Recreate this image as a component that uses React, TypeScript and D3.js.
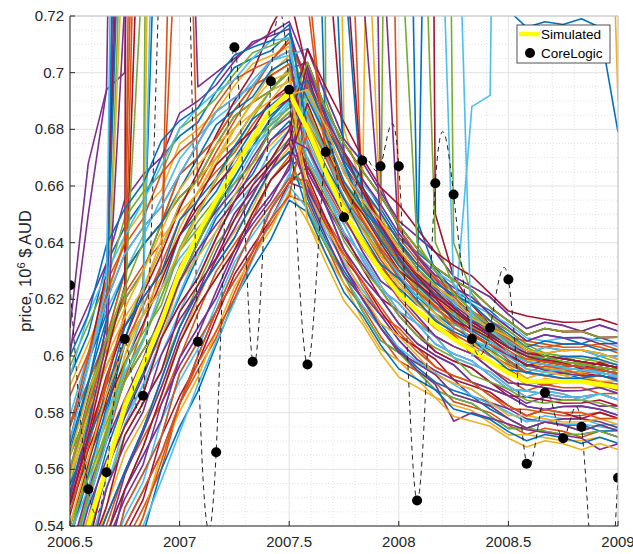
import React from 'react';
import * as d3 from 'd3';

const W = 633;
const H = 554;
const PLOT = { left: 70, top: 16, right: 618, bottom: 526 };

const START_YEAR = 2006.5;

const X_TICKS = [2006.5, 2007, 2007.5, 2008, 2008.5, 2009];
const X_TICK_LABELS = ['2006.5', '2007', '2007.5', '2008', '2008.5', '2009'];
const Y_TICKS = [0.54, 0.56, 0.58, 0.6, 0.62, 0.64, 0.66, 0.68, 0.7, 0.72];
const Y_TICK_LABELS = ['0.54', '0.56', '0.58', '0.6', '0.62', '0.64', '0.66', '0.68', '0.7', '0.72'];

const MATLAB_COLORS = ['#0072BD', '#D95319', '#EDB120', '#7E2F8E', '#77AC30', '#4DBEEE', '#A2142F'];

// Simulated mean, monthly (thousandths of 10^6 $)
const SIM_MEAN = [520, 540, 560, 582, 597, 612, 630, 643, 655, 666, 677, 687, 693, 680, 665, 651, 640, 630, 622, 616, 611, 606, 602, 598, 594, 591, 591, 591, 591, 590, 589];

// Centre and half-width of the bundle of simulated paths (thousandths)
const BAND_CENTER = [530, 550, 570, 588, 602, 615, 629, 640, 651, 661, 670, 678, 686, 678, 664, 651, 640, 631, 623, 617, 611, 606, 602, 598, 594, 591, 591, 591, 590, 590, 589];
const BAND_HALF = [70, 68, 66, 64, 62, 58, 54, 50, 47, 43, 39, 35, 31, 32, 31, 30, 30, 30, 29, 28, 27, 26, 25, 24, 23, 22, 22, 22, 22, 22, 22];

// Position of each simulated path inside the bundle (units of 1/20 of the half-width)
const SIM_DEV = [
  [18, 17, 19, 18, 17, 19, 18, 17, 18, 19, 18, 17, 18, 10, 11, 9, 10, 11, 10, 9, 10, 11, 9, 10, 11, 10, 9, 10, 11, 10, 9],
  [-17, -18, -19, -17, -18, -19, -17, -18, -19, -18, -17, -18, -19, -15, -16, -17, -15, -16, -17, -16, -15, -17, -16, -15, -16, -17, -15, -16, -17, -15, -16],
  [3, 4, 5, 5, 4, 3, 3, 4, 5, 4, 3, 5, 4, 5, 6, 7, 6, 5, 7, 6, 5, 6, 7, 6, 5, 7, 6, 5, 6, 7, 6],
  [-8, -7, -8, -9, -9, -8, -7, -7, -8, -9, -8, -7, -9, -6, -7, -6, -5, -5, -6, -7, -7, -6, -5, -6, -6, -7, -5, -6, -5, -7, -6],
  [13, 12, 11, 13, 12, 11, 13, 12, 11, 12, 13, 12, 11, 3, 4, 5, 4, 3, 5, 4, 3, 4, 5, 4, 3, 5, 4, 3, 4, 5, 4],
  [-14, -15, -13, -14, -15, -13, -14, -15, -14, -13, -14, -15, -14, -12, -13, -12, -11, -11, -12, -13, -13, -12, -11, -12, -12, -13, -11, -12, -11, -13, -12],
  [-1, 0, 1, 1, 0, -1, -1, 0, 1, 0, -1, 1, 0, 0, 1, -1, 0, 1, 0, -1, 0, 1, -1, 0, 1, 0, -1, 0, 1, 0, -1],
  [8, 9, 8, 7, 7, 8, 9, 9, 8, 7, 8, 9, 7, 15, 14, 13, 15, 14, 13, 14, 15, 13, 14, 15, 14, 13, 15, 14, 13, 15, 14],
  [-4, -5, -3, -4, -5, -3, -4, -5, -4, -3, -4, -5, -4, -11, -10, -9, -10, -11, -9, -10, -11, -10, -9, -10, -11, -9, -10, -11, -10, -9, -10],
  [17, 16, 15, 17, 16, 15, 17, 16, 15, 16, 17, 16, 15, 0, -1, 0, 1, 1, 0, -1, -1, 0, 1, 0, 0, -1, 1, 0, 1, -1, 0],
  [-17, -16, -15, -15, -16, -17, -17, -16, -15, -16, -17, -15, -16, -12, -11, -13, -12, -11, -12, -13, -12, -11, -13, -12, -11, -12, -13, -12, -11, -12, -13],
  [2, 3, 2, 1, 1, 2, 3, 3, 2, 1, 2, 3, 1, 9, 8, 7, 9, 8, 7, 8, 9, 7, 8, 9, 8, 7, 9, 8, 7, 9, 8],
  [-11, -12, -13, -11, -12, -13, -11, -12, -13, -12, -11, -12, -13, -3, -2, -1, -2, -3, -1, -2, -3, -2, -1, -2, -3, -1, -2, -3, -2, -1, -2],
  [10, 9, 11, 10, 9, 11, 10, 9, 10, 11, 10, 9, 10, 16, 15, 16, 17, 17, 16, 15, 15, 16, 17, 16, 16, 15, 17, 16, 17, 15, 16],
  [-3, -2, -1, -1, -2, -3, -3, -2, -1, -2, -3, -1, -2, -8, -7, -9, -8, -7, -8, -9, -8, -7, -9, -8, -7, -8, -9, -8, -7, -8, -9],
  [6, 7, 6, 5, 5, 6, 7, 7, 6, 5, 6, 7, 5, -3, -4, -5, -3, -4, -5, -4, -3, -5, -4, -3, -4, -5, -3, -4, -5, -3, -4],
  [-18, -19, -17, -18, -19, -17, -18, -19, -18, -17, -18, -19, -18, -19, -18, -17, -18, -19, -17, -18, -19, -18, -17, -18, -19, -17, -18, -19, -18, -17, -18],
  [21, 20, 19, 21, 20, 19, 21, 20, 19, 20, 21, 20, 19, 10, 9, 10, 11, 11, 10, 9, 9, 10, 11, 10, 10, 9, 11, 10, 11, 9, 10],
  [-7, -6, -5, -5, -6, -7, -7, -6, -5, -6, -7, -5, -6, 4, 5, 3, 4, 5, 4, 3, 4, 5, 3, 4, 5, 4, 3, 4, 5, 4, 3],
  [14, 15, 14, 13, 13, 14, 15, 15, 14, 13, 14, 15, 13, 19, 18, 17, 19, 18, 17, 18, 19, 17, 18, 19, 18, 17, 19, 18, 17, 19, 18],
  [-16, -17, -15, -16, -17, -15, -16, -17, -16, -15, -16, -17, -16, -7, -6, -5, -6, -7, -5, -6, -7, -6, -5, -6, -7, -5, -6, -7, -6, -5, -6],
  [5, 4, 3, 5, 4, 3, 5, 4, 3, 4, 5, 4, 3, -14, -15, -14, -13, -13, -14, -15, -15, -14, -13, -14, -14, -15, -13, -14, -13, -15, -14],
  [-11, -10, -9, -9, -10, -11, -11, -10, -9, -10, -11, -9, -10, 12, 13, 11, 12, 13, 12, 11, 12, 13, 11, 12, 13, 12, 11, 12, 13, 12, 11],
  [8, 9, 8, 7, 7, 8, 9, 9, 8, 7, 8, 9, 7, 3, 2, 1, 3, 2, 1, 2, 3, 1, 2, 3, 2, 1, 3, 2, 1, 3, 2],
  [-12, -13, -11, -12, -13, -11, -12, -13, -12, -11, -12, -13, -12, -5, -4, -3, -4, -5, -3, -4, -5, -4, -3, -4, -5, -3, -4, -5, -4, -3, -4],
  [19, 18, 17, 19, 18, 17, 19, 18, 17, 18, 19, 18, 17, 6, 5, 6, 7, 7, 6, 5, 5, 6, 7, 6, 6, 5, 7, 6, 7, 5, 6],
  [-5, -4, -3, -3, -4, -5, -5, -4, -3, -4, -5, -3, -4, 14, 15, 13, 14, 15, 14, 13, 14, 15, 13, 14, 15, 14, 13, 14, 15, 14, 13],
  [4, 5, 4, 3, 3, 4, 5, 5, 4, 3, 4, 5, 3, -9, -10, -11, -9, -10, -11, -10, -9, -11, -10, -9, -10, -11, -9, -10, -11, -9, -10],
  [-20, -21, -19, -20, -21, -19, -20, -21, -20, -19, -20, -21, -20, -17, -16, -15, -16, -17, -15, -16, -17, -16, -15, -16, -17, -15, -16, -17, -16, -15, -16],
  [13, 12, 11, 13, 12, 11, 13, 12, 11, 12, 13, 12, 11, -2, -3, -2, -1, -1, -2, -3, -3, -2, -1, -2, -2, -3, -1, -2, -1, -3, -2],
  [-9, -8, -7, -7, -8, -9, -9, -8, -7, -8, -9, -7, -8, 8, 9, 7, 8, 9, 8, 7, 8, 9, 7, 8, 9, 8, 7, 8, 9, 8, 7],
  [0, 1, 0, -1, -1, 0, 1, 1, 0, -1, 0, 1, -1, 19, 18, 17, 19, 18, 17, 18, 19, 17, 18, 19, 18, 17, 19, 18, 17, 19, 18],
  [10, 9, 11, 10, 9, 11, 10, 9, 10, 11, 10, 9, 10, -17, -16, -15, -16, -17, -15, -16, -17, -16, -15, -16, -17, -15, -16, -17, -16, -15, -16],
  [-13, -14, -15, -13, -14, -15, -13, -14, -15, -14, -13, -14, -15, 10, 9, 10, 11, 11, 10, 9, 9, 10, 11, 10, 10, 9, 11, 10, 11, 9, 10],
  [5, 6, 7, 7, 6, 5, 5, 6, 7, 6, 5, 7, 6, 0, 1, -1, 0, 1, 0, -1, 0, 1, -1, 0, 1, 0, -1, 0, 1, 0, -1],
  [-8, -7, -8, -9, -9, -8, -7, -7, -8, -9, -8, -7, -9, -17, -18, -19, -17, -18, -19, -18, -17, -19, -18, -17, -18, -19, -17, -18, -19, -17, -18],
  [16, 15, 17, 16, 15, 17, 16, 15, 16, 17, 16, 15, 16, 11, 12, 13, 12, 11, 13, 12, 11, 12, 13, 12, 11, 13, 12, 11, 12, 13, 12],
  [-1, -2, -3, -1, -2, -3, -1, -2, -3, -2, -1, -2, -3, 2, 1, 2, 3, 3, 2, 1, 1, 2, 3, 2, 2, 1, 3, 2, 3, 1, 2],
  [13, 14, 15, 15, 14, 13, 13, 14, 15, 14, 13, 15, 14, -8, -7, -9, -8, -7, -8, -9, -8, -7, -9, -8, -7, -8, -9, -8, -7, -8, -9],
  [-10, -9, -10, -11, -11, -10, -9, -9, -10, -11, -10, -9, -11, -13, -14, -15, -13, -14, -15, -14, -13, -15, -14, -13, -14, -15, -13, -14, -15, -13, -14],
  [2, 1, 3, 2, 1, 3, 2, 1, 2, 3, 2, 1, 2, -5, -4, -3, -4, -5, -3, -4, -5, -4, -3, -4, -5, -3, -4, -5, -4, -3, -4],
  [-5, -6, -7, -5, -6, -7, -5, -6, -7, -6, -5, -6, -7, 16, 15, 16, 17, 17, 16, 15, 15, 16, 17, 16, 16, 15, 17, 16, 17, 15, 16],
  [11, 12, 13, 13, 12, 11, 11, 12, 13, 12, 11, 13, 12, 8, 9, 7, 8, 9, 8, 7, 8, 9, 7, 8, 9, 8, 7, 8, 9, 8, 7],
  [-18, -17, -18, -19, -19, -18, -17, -17, -18, -19, -18, -17, -19, 5, 4, 3, 5, 4, 3, 4, 5, 3, 4, 5, 4, 3, 5, 4, 3, 5, 4],
  [8, 7, 9, 8, 7, 9, 8, 7, 8, 9, 8, 7, 8, -13, -12, -11, -12, -13, -11, -12, -13, -12, -11, -12, -13, -11, -12, -13, -12, -11, -12],
  [-11, -12, -13, -11, -12, -13, -11, -12, -13, -12, -11, -12, -13, 14, 13, 14, 15, 15, 14, 13, 13, 14, 15, 14, 14, 13, 15, 14, 15, 13, 14],
  [-1, 0, 1, 1, 0, -1, -1, 0, 1, 0, -1, 1, 0, -6, -5, -7, -6, -5, -6, -7, -6, -5, -7, -6, -5, -6, -7, -6, -5, -6, -7],
  [18, 19, 18, 17, 17, 18, 19, 19, 18, 17, 18, 19, 17, -3, -4, -5, -3, -4, -5, -4, -3, -5, -4, -3, -4, -5, -3, -4, -5, -3, -4],
  [-4, -5, -3, -4, -5, -3, -4, -5, -4, -3, -4, -5, -4, 19, 20, 21, 20, 19, 21, 20, 19, 20, 21, 20, 19, 21, 20, 19, 20, 21, 20],
  [7, 6, 5, 7, 6, 5, 7, 6, 5, 6, 7, 6, 5, 12, 11, 12, 13, 13, 12, 11, 11, 12, 13, 12, 12, 11, 13, 12, 13, 11, 12],
  [-17, -16, -15, -15, -16, -17, -17, -16, -15, -16, -17, -15, -16, 0, 1, -1, 0, 1, 0, -1, 0, 1, -1, 0, 1, 0, -1, 0, 1, 0, -1],
  [10, 11, 10, 9, 9, 10, 11, 11, 10, 9, 10, 11, 9, -19, -20, -21, -19, -20, -21, -20, -19, -21, -20, -19, -20, -21, -19, -20, -21, -19, -20],
  [-6, -7, -5, -6, -7, -5, -6, -7, -6, -5, -6, -7, -6, -3, -2, -1, -2, -3, -1, -2, -3, -2, -1, -2, -3, -1, -2, -3, -2, -1, -2],
  [3, 2, 1, 3, 2, 1, 3, 2, 1, 2, 3, 2, 1, 16, 15, 16, 17, 17, 16, 15, 15, 16, 17, 16, 16, 15, 17, 16, 17, 15, 16],
  [13, 14, 15, 15, 14, 13, 13, 14, 15, 14, 13, 15, 14, 4, 5, 3, 4, 5, 4, 3, 4, 5, 3, 4, 5, 4, 3, 4, 5, 4, 3],
  [-10, -9, -10, -11, -11, -10, -9, -9, -10, -11, -10, -9, -11, 7, 6, 5, 7, 6, 5, 6, 7, 5, 6, 7, 6, 5, 7, 6, 5, 7, 6],
  [20, 19, 21, 20, 19, 21, 20, 19, 20, 21, 20, 19, 20, 1, 2, 3, 2, 1, 3, 2, 1, 2, 3, 2, 1, 3, 2, 1, 2, 3, 2],
  [-13, -14, -15, -13, -14, -15, -13, -14, -15, -14, -13, -14, -15, -10, -11, -10, -9, -9, -10, -11, -11, -10, -9, -10, -10, -11, -9, -10, -9, -11, -10],
  [3, 4, 5, 5, 4, 3, 3, 4, 5, 4, 3, 5, 4, 10, 11, 9, 10, 11, 10, 9, 10, 11, 9, 10, 11, 10, 9, 10, 11, 10, 9],
  [-2, -1, -2, -3, -3, -2, -1, -1, -2, -3, -2, -1, -3, -13, -14, -15, -13, -14, -15, -14, -13, -15, -14, -13, -14, -15, -13, -14, -15, -13, -14],
];

// Diverging / outlier simulated paths (absolute, thousandths)
const SIM_OUTLIERS = [
  [575, 598, 615, 964, 1200, 1300, 1300, 1300, 1300, 1300, 1300, 1300, 1300, 900, 675, 660, 648, 637, 628, 621, 615, 610, 606, 602, 598, 594, 593, 594, 592, 591, 590],
  [540, 563, 590, 615, 1200, 1200, 1200, 1200, 1200, 1200, 1200, 1200, 1200, 1200, 1200, 820, 655, 642, 633, 626, 620, 615, 610, 606, 602, 598, 597, 596, 597, 595, 594],
  [600, 650, 694, 700, 1300, 1300, 1300, 1300, 1300, 1300, 1300, 1300, 1300, 1300, 1300, 1300, 1300, 760, 640, 631, 624, 618, 613, 609, 605, 601, 599, 598, 597, 596, 595],
  [555, 578, 600, 791, 2000, 2000, 2000, 2000, 2000, 2000, 2000, 2000, 2000, 2000, 690, 672, 659, 648, 639, 631, 625, 619, 614, 609, 605, 601, 600, 599, 598, 597, 596],
  [530, 552, 575, 600, 620, 1100, 1100, 1100, 1100, 1100, 1100, 1100, 1100, 1100, 1100, 680, 660, 647, 637, 629, 623, 617, 612, 608, 604, 600, 599, 598, 597, 596, 595],
  [525, 548, 570, 592, 610, 632, 900, 660, 672, 683, 694, 704, 712, 698, 680, 665, 653, 643, 634, 627, 621, 616, 611, 607, 603, 600, 599, 598, 597, 596, 595],
  [548, 570, 592, 612, 807, 1600, 1600, 1600, 1600, 1600, 1600, 1600, 1600, 1600, 1600, 1600, 1600, 1600, 1600, 1600, 650, 628, 618, 611, 606, 602, 600, 599, 598, 597, 596],
  [552, 576, 612, 1000, 1000, 1000, 1000, 1000, 1000, 1000, 1000, 1000, 1000, 1000, 1000, 1000, 1000, 1000, 1000, 648, 630, 620, 613, 607, 603, 600, 598, 597, 596, 595, 594],
  [610, 668, 694, 1100, 1100, 1100, 1100, 1100, 1100, 1100, 1100, 1100, 1100, 1100, 1100, 1100, 1100, 660, 645, 635, 627, 620, 615, 610, 606, 602, 600, 599, 598, 597, 596],
  [510, 532, 553, 576, 590, 606, 622, 637, 650, 661, 672, 682, 690, 676, 662, 650, 640, 631, 624, 618, 614, 609, 688, 692, 1200, 1200, 1200, 1200, 1200, 1200, 1200],
  [515, 537, 558, 580, 594, 609, 626, 640, 652, 663, 674, 684, 691, 678, 664, 650, 640, 631, 624, 618, 1000, 1000, 1000, 780, 722, 716, 718, 717, 719, 716, 679],
  [535, 558, 578, 600, 615, 628, 645, 658, 668, 680, 690, 700, 706, 692, 676, 662, 651, 1100, 1100, 1100, 1100, 1100, 1100, 1100, 1100, 1100, 1100, 1100, 1100, 900, 690],
  [528, 551, 572, 594, 606, 621, 638, 651, 662, 673, 684, 694, 700, 686, 670, 656, 645, 636, 1300, 1300, 1300, 640, 622, 614, 609, 604, 601, 600, 599, 598, 597],
  [540, 562, 585, 606, 622, 636, 652, 665, 678, 690, 700, 716, 728, 700, 678, 660, 648, 638, 630, 623, 617, 612, 608, 604, 600, 597, 596, 595, 594, 593, 592],
  [560, 585, 610, 900, 900, 900, 900, 695, 700, 705, 710, 714, 718, 702, 684, 668, 655, 645, 636, 628, 622, 617, 612, 608, 604, 601, 600, 599, 598, 597, 596],
  [470, 490, 510, 528, 540, 556, 573, 590, 605, 619, 634, 648, 660, 652, 640, 628, 618, 610, 603, 598, 594, 590, 586, 583, 580, 577, 577, 576, 576, 575, 574],
  [495, 515, 536, 558, 573, 589, 607, 621, 634, 645, 657, 668, 675, 660, 646, 632, 620, 610, 602, 595, 590, 577, 580, 578, 576, 574, 573, 572, 571, 567, 569],
  [545, 568, 592, 615, 882, 1400, 1400, 1400, 1400, 1400, 1400, 1400, 1400, 736, 670, 656, 645, 634, 626, 619, 613, 608, 604, 600, 597, 594, 593, 592, 592, 591, 590],
  [535, 558, 582, 606, 625, 818, 1200, 1200, 1200, 1200, 1200, 1200, 1200, 1200, 1200, 738, 655, 644, 635, 627, 621, 616, 611, 607, 603, 600, 598, 597, 596, 596, 595],
  [558, 582, 605, 761, 1500, 1500, 1500, 1500, 1500, 1500, 1500, 1500, 1500, 1500, 1500, 1500, 799, 650, 636, 627, 620, 614, 609, 605, 601, 598, 596, 595, 594, 594, 593],
  [560, 582, 603, 622, 632, 640, 777, 1300, 1300, 1300, 1300, 1300, 1300, 1300, 1300, 1300, 1300, 1005, 645, 636, 628, 621, 615, 610, 606, 602, 599, 598, 597, 596, 595],
  [565, 588, 605, 620, 740, 1300, 1300, 1300, 1300, 1300, 1300, 1300, 1300, 1300, 1300, 1300, 1300, 1300, 1300, 841, 640, 625, 615, 609, 604, 601, 599, 598, 597, 596, 595],
  [570, 598, 630, 824, 1500, 1500, 1500, 1500, 1500, 1500, 1500, 1500, 1500, 1500, 752, 672, 658, 646, 637, 629, 623, 617, 612, 608, 604, 601, 600, 599, 598, 597, 596],
  [525, 548, 570, 596, 615, 890, 1200, 1200, 1200, 1200, 1200, 1200, 1200, 1200, 1200, 1200, 1200, 1200, 1200, 1200, 828, 625, 615, 609, 604, 600, 598, 597, 596, 595, 594],
  [566, 590, 620, 813, 1400, 1400, 1400, 1400, 1400, 1400, 1400, 1400, 1400, 1400, 826, 668, 652, 641, 632, 625, 619, 614, 609, 605, 601, 598, 597, 596, 595, 594, 593],
  [548, 572, 600, 625, 3000, 3000, 3000, 3000, 3000, 3000, 3000, 3000, 3000, 3000, 3000, 749, 660, 646, 636, 628, 621, 616, 611, 607, 603, 600, 598, 597, 596, 595, 594],
  [550, 575, 605, 725, 1800, 1800, 1800, 1800, 1800, 1800, 1800, 1800, 1800, 1800, 1800, 1800, 732, 648, 634, 626, 619, 613, 608, 604, 600, 597, 595, 594, 593, 593, 592],
  [575, 600, 622, 640, 921, 1600, 1600, 1600, 1600, 1600, 1600, 1600, 1600, 725, 672, 659, 648, 638, 630, 623, 617, 612, 608, 604, 601, 599, 598, 597, 596, 595, 594],
  [560, 584, 606, 624, 640, 1400, 1400, 1400, 1400, 1400, 1400, 1400, 1400, 1400, 1400, 1400, 1400, 1400, 761, 640, 630, 622, 616, 611, 607, 603, 600, 598, 597, 596, 595],
  [570, 596, 625, 1122, 1500, 1500, 1500, 1500, 1500, 1500, 1500, 1500, 1500, 1500, 1500, 1500, 1500, 1500, 1500, 1500, 1500, 822, 600, 605, 601, 598, 597, 596, 595, 594, 593],
];
const OUTLIER_COLOR_IDX = [0, 1, 3, 4, 2, 1, 6, 0, 3, 5, 0, 2, 4, 6, 3, 5, 3, 1, 0, 2, 1, 4, 6, 5, 0, 6, 3, 1, 4, 5];

// CoreLogic monthly values (10^6 $ AUD); some months fall outside the visible range
const CORELOGIC = [0.625, 0.553, 0.559, 0.606, 0.586, 0.76, 0.86, 0.605, 0.566, 0.709, 0.598, 0.697, 0.694, 0.597, 0.672, 0.649, 0.669, 0.667, 0.667, 0.549, 0.661, 0.657, 0.606, 0.61, 0.627, 0.562, 0.587, 0.571, 0.575, 0.49, 0.557];

const LEGEND_LABELS = ['Simulated', 'CoreLogic'];
const Y_LABEL_MAIN = 'price, 10';
const Y_LABEL_SUP = '6';
const Y_LABEL_TAIL = ' $ AUD';

const FONT = '"Liberation Sans", Arial, Helvetica, sans-serif';

export default function App() {
  const x = d3.scaleLinear().domain([2006.5, 2009]).range([PLOT.left, PLOT.right]);
  const y = d3.scaleLinear().domain([0.54, 0.72]).range([PLOT.bottom, PLOT.top]);
  const monthX = (k: number) => x(START_YEAR + k / 12);

  const thousLine = d3.line<number>().x((_, k) => monthX(k)).y((v) => y(v / 1000));
  const devLine = (dev: number[]) =>
    thousLine(dev.map((d, k) => BAND_CENTER[k] + (d * BAND_HALF[k]) / 20)) || '';
  const spline = d3.line<number>().x((_, k) => monthX(k)).y((v) => y(v)).curve(d3.curveNatural);

  const xMinor = d3.range(2006.6, 2009.0, 0.1).filter((v) => Math.abs(v * 2 - Math.round(v * 2)) > 0.01);
  const yMinor = d3.range(0.545, 0.72, 0.005).filter((v) => Math.abs(v * 50 - Math.round(v * 50)) > 0.01);

  const gridMajor = '#dcdcdc';
  const gridMinor = '#d0d0d0';
  const axisCol = '#262626';

  const paths: { d: string; color: string }[] = [];
  let ci = 0;
  let oi = 0;
  SIM_DEV.forEach((row, i) => {
    paths.push({ d: devLine(row), color: MATLAB_COLORS[ci % 7] });
    ci++;
    if (i % 2 === 1 && oi < SIM_OUTLIERS.length) {
      paths.push({ d: thousLine(SIM_OUTLIERS[oi]) || '', color: MATLAB_COLORS[OUTLIER_COLOR_IDX[oi]] });
      oi++;
    }
  });
  while (oi < SIM_OUTLIERS.length) {
    paths.push({ d: thousLine(SIM_OUTLIERS[oi]) || '', color: MATLAB_COLORS[OUTLIER_COLOR_IDX[oi]] });
    oi++;
  }

  const yl = (PLOT.top + PLOT.bottom) / 2;

  return (
    <svg width={W} height={H} style={{ position: 'absolute', left: 0, top: 0, background: '#fff' }} fontFamily={FONT}>
      <defs>
        <clipPath id="plotClip">
          <rect x={PLOT.left} y={PLOT.top} width={PLOT.right - PLOT.left} height={PLOT.bottom - PLOT.top} />
        </clipPath>
      </defs>
      <rect x={0} y={0} width={W} height={H} fill="#fff" />
      <g stroke={gridMinor} strokeWidth={0.6} strokeDasharray="1,2">
        {xMinor.map((v, i) => (
          <line key={'xm' + i} x1={x(v)} x2={x(v)} y1={PLOT.top} y2={PLOT.bottom} />
        ))}
        {yMinor.map((v, i) => (
          <line key={'ym' + i} x1={PLOT.left} x2={PLOT.right} y1={y(v)} y2={y(v)} />
        ))}
      </g>
      <g stroke={gridMajor} strokeWidth={0.8}>
        {X_TICKS.map((v, i) => (
          <line key={'xg' + i} x1={x(v)} x2={x(v)} y1={PLOT.top} y2={PLOT.bottom} />
        ))}
        {Y_TICKS.map((v, i) => (
          <line key={'yg' + i} x1={PLOT.left} x2={PLOT.right} y1={y(v)} y2={y(v)} />
        ))}
      </g>
      <g clipPath="url(#plotClip)">
        <g fill="none" strokeWidth={1.6} strokeLinejoin="round">
          {paths.map((p, i) => (
            <path key={'s' + i} d={p.d} stroke={p.color} />
          ))}
        </g>
        <path d={thousLine(SIM_MEAN) || ''} fill="none" stroke="#FFFF00" strokeWidth={4.5} strokeLinejoin="round" />
        <path d={spline(CORELOGIC) || ''} fill="none" stroke="#222" strokeWidth={1} strokeDasharray="5,4" />
        {CORELOGIC.map((v, k) => (
          <circle key={'c' + k} cx={monthX(k)} cy={y(v)} r={5} fill="#000" />
        ))}
      </g>
      <line x1={PLOT.left} x2={PLOT.right} y1={PLOT.top} y2={PLOT.top} stroke="#c4c4c4" strokeWidth={1} />
      <line x1={PLOT.right} x2={PLOT.right} y1={PLOT.top} y2={PLOT.bottom} stroke="#c4c4c4" strokeWidth={1} />
      <line x1={PLOT.left} x2={PLOT.left} y1={PLOT.top} y2={PLOT.bottom} stroke={axisCol} strokeWidth={1} />
      <line x1={PLOT.left} x2={PLOT.right} y1={PLOT.bottom} y2={PLOT.bottom} stroke={axisCol} strokeWidth={1} />
      <g stroke={axisCol} strokeWidth={1}>
        {X_TICKS.map((v, i) => (
          <line key={'xt' + i} x1={x(v)} x2={x(v)} y1={PLOT.bottom} y2={PLOT.bottom - 5} />
        ))}
        {Y_TICKS.map((v, i) => (
          <line key={'yt' + i} x1={PLOT.left} x2={PLOT.left + 5} y1={y(v)} y2={y(v)} />
        ))}
      </g>
      <g fill={axisCol} fontSize={15}>
        {X_TICKS.map((v, i) => (
          <text key={'xl' + i} x={x(v)} y={547} textAnchor="middle">
            {X_TICK_LABELS[i]}
          </text>
        ))}
        {Y_TICKS.map((v, i) => (
          <text key={'yl' + i} x={PLOT.left - 6} y={y(v) + 5} textAnchor="end">
            {Y_TICK_LABELS[i]}
          </text>
        ))}
      </g>
      <text transform={`translate(31,${yl}) rotate(-90)`} textAnchor="middle" fontSize={16.5} fill={axisCol}>
        {Y_LABEL_MAIN}
        <tspan dy={-6} fontSize={11}>{Y_LABEL_SUP}</tspan>
        <tspan dy={6}>{Y_LABEL_TAIL}</tspan>
      </text>
      <g>
        <rect x={517} y={25} width={93} height={38} fill="#fff" stroke={axisCol} strokeWidth={0.8} />
        <line x1={519} x2={540} y1={34} y2={34} stroke="#FFFF00" strokeWidth={4.5} />
        <circle cx={530} cy={53} r={5} fill="#000" />
        <text x={541} y={39} fontSize={13.5} fill="#000">{LEGEND_LABELS[0]}</text>
        <text x={541} y={58} fontSize={13.5} fill="#000">{LEGEND_LABELS[1]}</text>
      </g>
    </svg>
  );
}
